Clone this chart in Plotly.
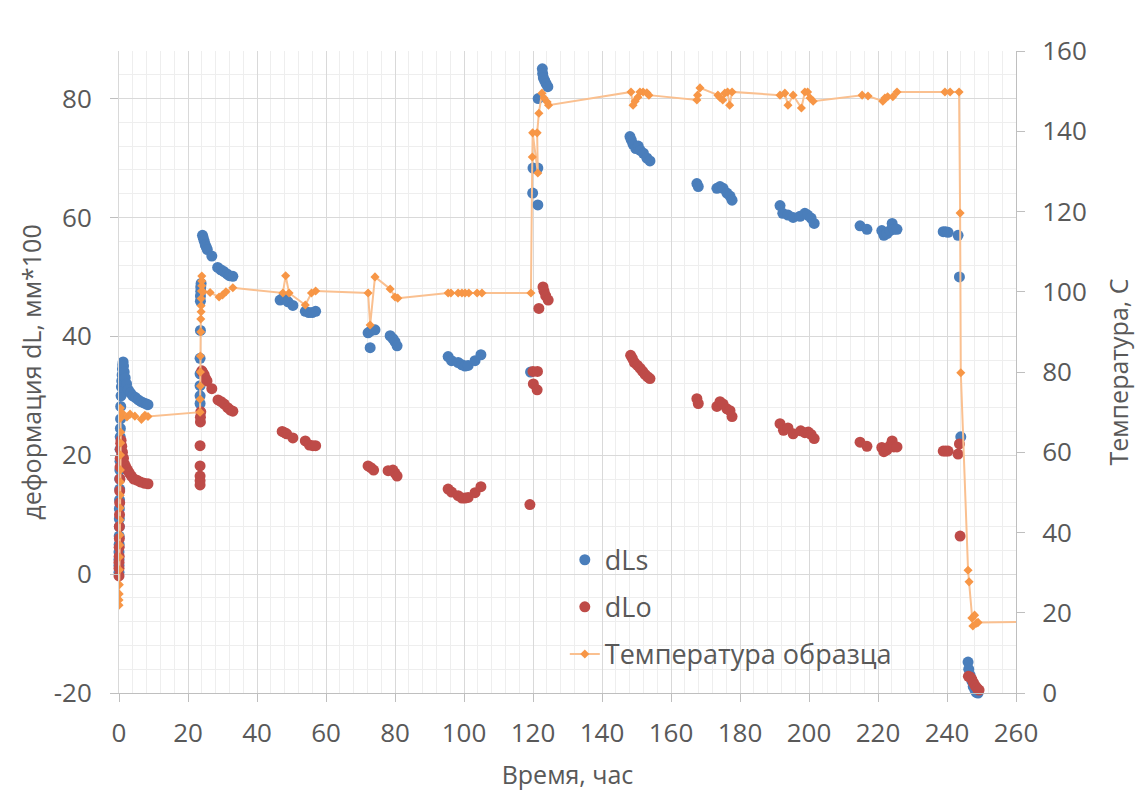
import plotly.graph_objects as go

# ---------------- data ----------------
ls_t = [0.0, 0.0, 0.0, 0.0, 0.05, 0.05, 0.1, 0.1, 0.1, 0.15, 0.2, 0.2, 0.25, 0.3, 0.3, 0.35, 0.4, 0.45, 0.5,
        0.6, 0.7, 0.8, 0.9, 1.0, 1.1, 1.2, 1.3, 1.5, 1.8, 2.2, 2.7, 3.3, 4.0, 4.8, 5.6, 6.4, 7.2, 8.0, 8.4,
        23.5, 23.5, 23.5, 23.5, 23.5, 23.6, 23.6, 23.6, 23.7, 23.7, 23.8, 24.2, 24.4, 24.7, 25.0, 25.3, 25.6,
        26.9, 28.6, 29.5, 30.4, 31.3, 32.0, 33.0,
        46.7, 47.5, 48.3, 49.0, 50.4, 54.0, 55.0, 56.0, 57.0,
        72.2, 73.0, 74.2, 72.8, 78.6, 79.4, 80.0, 80.6,
        95.4, 96.4, 98.3, 99.4, 100.3, 101.2, 103.2, 104.9,
        119.3, 119.9, 120.0, 121.4, 121.4, 121.5, 122.7, 122.8, 123.0, 123.4, 123.8, 124.3,
        148.1, 148.5, 149.0, 149.8, 150.5, 151.1, 152.0, 153.0, 153.9,
        167.5, 167.9, 173.3, 174.2, 175.1, 176.2, 177.1, 177.7,
        191.6, 192.4, 193.9, 195.4, 197.4, 198.8, 199.6, 200.6, 201.5,
        214.8, 216.8, 221.1, 221.7, 222.6, 223.5, 224.1, 224.6, 225.5,
        238.9, 239.6, 240.3, 243.2, 243.6, 244.0,
        246.1, 246.3, 246.7, 247.2, 247.6, 248.1, 248.5, 249.0]
ls_v = [0.3, 1.5, 2.5, 3.7, 5.0, 6.4, 8.0, 9.3, 11.0, 12.5, 14.3, 16.0, 17.5, 19.0, 21.0, 23.1, 24.5, 26.1, 28.2,
        30.0, 31.5, 32.5, 33.5, 34.5, 35.2, 35.7, 35.0, 34.0, 33.0, 32.0, 31.0, 30.5, 30.0, 29.7, 29.3, 29.0, 28.8, 28.6, 28.5,
        28.7, 30.0, 31.7, 33.7, 36.3, 41.0, 45.9, 46.8, 47.6, 48.3, 48.9, 57.0, 56.6, 56.0, 55.4, 55.0, 54.6,
        53.5, 51.6, 51.2, 50.9, 50.5, 50.2, 50.1,
        46.1, 46.4, 46.2, 45.8, 45.2, 44.2, 44.0, 44.0, 44.2,
        40.6, 40.9, 41.1, 38.1, 40.1, 39.6, 39.1, 38.4,
        36.6, 35.9, 35.6, 35.2, 35.0, 35.1, 35.9, 36.9,
        34.0, 64.1, 68.3, 68.3, 62.1, 80.0, 85.0, 84.2, 83.5, 83.0, 82.5, 82.0,
        73.6, 73.0, 72.3, 71.6, 72.0, 71.3, 70.8, 70.0, 69.5,
        65.7, 65.2, 64.9, 65.2, 64.9, 64.1, 63.6, 62.9,
        62.0, 60.7, 60.4, 60.0, 60.2, 60.7, 60.4, 59.9, 59.0,
        58.6, 58.0, 57.8, 57.0, 57.3, 57.8, 59.0, 58.0, 58.0,
        57.6, 57.6, 57.5, 57.0, 50.0, 23.1,
        -14.8, -16.0, -17.0, -18.0, -18.9, -19.5, -19.9, -20.0]

lo_t = [0.0, 0.0, 0.0, 0.05, 0.05, 0.1, 0.1, 0.15, 0.2, 0.2, 0.25, 0.3, 0.35, 0.4, 0.5, 0.6, 0.8, 1.0,
        1.3, 1.6, 2.0, 2.5, 3.0, 3.6, 4.3, 5.2, 6.2, 7.3, 8.4,
        23.5, 23.5, 23.5, 23.5, 23.5, 23.6, 23.6, 23.7, 24.0, 24.3, 24.7, 25.1, 25.5, 26.9, 28.7, 29.6, 30.5,
        31.5, 32.3, 33.0,
        47.3, 48.0, 48.6, 50.4, 54.0, 55.2, 56.2, 57.0,
        72.2, 73.0, 73.8, 78.0, 79.4, 80.0, 80.6,
        95.4, 96.4, 98.3, 99.4, 100.3, 101.2, 103.2, 104.9,
        119.1, 120.0, 121.3, 120.1, 121.2, 121.7, 122.9, 123.2, 123.7, 124.4,
        148.3, 148.8, 149.4, 150.3, 151.1, 151.8, 152.5, 153.2, 153.9,
        167.5, 167.9, 173.3, 174.2, 175.1, 176.2, 177.1, 177.7,
        191.6, 192.6, 193.9, 195.4, 197.6, 198.8, 199.8, 200.6, 201.5,
        214.8, 216.8, 221.1, 221.7, 222.6, 223.5, 224.1, 224.6, 225.5,
        238.9, 239.6, 240.3, 243.2, 243.6, 243.8,
        246.2, 246.7, 247.2, 247.7, 248.2, 248.7, 249.3]
lo_v = [-0.3, 1.0, 2.0, 3.0, 4.5, 6.0, 8.0, 10.0, 12.0, 14.0, 16.0, 18.0, 19.5, 21.0, 22.0, 22.5, 21.5, 20.5,
        19.5, 18.5, 18.0, 17.5, 17.0, 16.5, 16.0, 15.8, 15.5, 15.3, 15.2,
        15.0, 15.7, 16.5, 18.2, 21.6, 25.6, 26.4, 27.3, 34.2, 33.9, 33.5, 32.9, 32.5, 31.2, 29.3, 29.0, 28.6,
        28.0, 27.6, 27.4,
        24.0, 23.8, 23.6, 22.9, 22.4, 21.7, 21.6, 21.6,
        18.2, 17.9, 17.5, 17.4, 17.5, 17.0, 16.5,
        14.3, 13.8, 13.2, 12.8, 12.8, 12.9, 13.7, 14.7,
        11.7, 34.1, 34.1, 32.0, 31.0, 44.7, 48.3, 47.6, 46.8, 46.1,
        36.8, 36.3, 35.6, 35.1, 34.6, 34.1, 33.6, 33.2, 32.9,
        29.5, 28.7, 28.2, 29.0, 28.6, 27.8, 27.5, 26.5,
        25.3, 24.2, 24.6, 23.6, 24.1, 23.8, 23.9, 23.5, 22.8,
        22.2, 21.5, 21.3, 20.6, 20.9, 21.6, 22.4, 21.4, 21.4,
        20.7, 20.7, 20.7, 20.2, 21.9, 6.4,
        -17.2, -17.3, -17.7, -18.3, -18.8, -19.2, -19.5]

temp_t = [0.0, 0.0, 0.05, 0.1, 0.1, 0.15, 0.2, 0.25, 0.3, 0.3, 0.35, 0.4, 0.4, 0.45, 0.5, 0.5, 0.4, 0.4,
          0.9, 2.3, 3.2, 4.6, 6.5, 7.5, 8.4,
          23.5, 23.5, 23.6, 23.6, 23.6, 23.7, 23.7, 23.8, 23.8, 23.8, 23.9, 24.0, 24.0, 24.0,
          24.4, 26.4, 29.0, 30.0, 31.0, 33.0,
          47.5, 48.3, 49.3, 54.0, 55.8, 57.0,
          72.2, 72.8, 74.2, 78.6, 80.0, 80.8,
          95.4, 96.2, 98.3, 99.4, 100.3, 101.4, 103.8, 105.2,
          119.4, 119.8, 119.9, 121.4, 121.2, 121.7, 122.6, 123.2, 124.1, 124.5,
          148.4, 149.0, 149.6, 150.4, 151.0, 151.9, 153.0, 153.6,
          167.5, 167.7, 168.4, 173.6, 174.2, 175.0, 175.6, 176.4, 177.0, 177.7,
          191.6, 193.0, 193.9, 195.4, 197.8, 198.8, 199.6, 200.3, 201.2,
          215.4, 217.1, 221.4, 222.0, 222.8, 224.3, 225.5,
          239.4, 240.9, 243.5, 243.8, 244.0, 246.1, 246.4, 247.2, 247.5, 248.0, 248.6, 249.0, 262.0]
temp_v = [21.9, 23.2, 24.7, 27.0, 30.7, 33.9, 36.9, 39.4, 43.1, 46.1, 49.3, 52.6, 55.6, 59.3, 62.3, 65.0, 68.5, 71.0,
          69.8, 68.8, 69.5, 69.0, 68.2, 69.2, 68.9,
          70.0, 73.2, 76.5, 80.0, 84.0, 90.0, 93.2, 95.0, 96.5, 98.3, 100.2, 101.5, 102.7, 103.9,
          100.0, 99.8, 98.7, 99.2, 100.0, 101.0,
          99.7, 104.0, 99.7, 96.7, 99.7, 100.2,
          99.7, 91.7, 103.7, 100.7, 98.7, 98.4,
          99.7, 99.7, 99.7, 99.7, 99.7, 99.7, 99.7, 99.7,
          99.7, 133.6, 139.6, 129.6, 139.6, 144.5, 149.5, 148.3, 147.3, 146.5,
          149.8, 146.5, 147.5, 148.5, 149.8, 149.8, 149.6, 149.0,
          147.8, 149.0, 150.8, 149.0, 148.4, 147.8, 149.5, 149.8, 146.5, 149.8,
          149.0, 149.5, 146.5, 149.0, 145.8, 149.8, 149.8, 148.3, 147.5,
          149.0, 148.8, 147.5, 148.3, 148.6, 148.6, 149.8,
          149.8, 149.8, 149.8, 119.6, 79.8, 30.6, 27.7, 18.7, 16.7, 19.4, 17.4, 17.6, 17.7]

x_ticks = list(range(0, 261, 20))
yl_ticks = list(range(-20, 81, 20))
yl_text = [str(v) for v in yl_ticks]          # hyphen-minus as in the original
yr_ticks = list(range(0, 161, 20))

# ---------------- figure ----------------
FONT = "Open Sans"
GREY = "#595959"
TICK = 26
TITLE = 25
fig = go.Figure()
fig.add_trace(go.Scatter(x=ls_t, y=ls_v, mode="markers", name="dLs", legendgroup="a",
                         marker=dict(size=11, color="#4a7ebb"), cliponaxis=False))
fig.add_trace(go.Scatter(x=lo_t, y=lo_v, mode="markers", name="dLo", legendgroup="b",
                         marker=dict(size=11, color="#be4b48"), cliponaxis=False))
fig.add_trace(go.Scatter(x=temp_t, y=temp_v, mode="lines+markers", name="Температура образца",
                         legendgroup="c", yaxis="y2",
                         line=dict(color="#fac090", width=2),
                         marker=dict(symbol="diamond", size=7, color="#f79646")))

fig.update_layout(
    width=1135, height=803,
    margin=dict(l=119, r=119, t=51, b=110, autoexpand=False),
    paper_bgcolor="white", plot_bgcolor="white",
    font=dict(family=FONT, size=TICK, color=GREY),
    showlegend=True,
    legend=dict(x=0.497, y=0.245, xanchor="left", yanchor="top",
                font=dict(family=FONT, size=27, color=GREY),
                bgcolor="rgba(0,0,0,0)", tracegroupgap=9, traceorder="grouped"),
    xaxis=dict(range=[0, 260], tickvals=x_ticks, showgrid=True, gridcolor="#d9d9d9", gridwidth=1,
               minor=dict(dtick=4, tick0=0, showgrid=True, gridcolor="#eeeeee"),
               ticks="outside", ticklen=8, tickcolor="#bfbfbf", ticklabelstandoff=9,
               showline=True, linecolor="#bfbfbf", zeroline=False, automargin=False,
               tickfont=dict(size=TICK, color=GREY),
               title=dict(text="Время, час", font=dict(size=TITLE, color=GREY), standoff=17)),
    yaxis=dict(range=[-20, 88], tickvals=yl_ticks, ticktext=yl_text, showgrid=True,
               gridcolor="#d9d9d9", gridwidth=1,
               minor=dict(dtick=4, tick0=-20, showgrid=True, gridcolor="#eeeeee"),
               ticks="outside", ticklen=8, tickcolor="#bfbfbf", ticklabelstandoff=13,
               showline=True, linecolor="#d9d9d9", zeroline=False, automargin=False,
               tickfont=dict(size=TICK, color=GREY),
               title=dict(text="деформация dL, мм*100", font=dict(size=TITLE, color=GREY), standoff=4)),
    yaxis2=dict(range=[0, 160], tickvals=yr_ticks, overlaying="y", side="right", showgrid=False,
                ticks="outside", ticklen=8, tickcolor="#bfbfbf", ticklabelstandoff=12,
                showline=True, linecolor="#bfbfbf", zeroline=False, automargin=False,
                tickfont=dict(size=TICK, color=GREY),
                title=dict(text="Температура, С", font=dict(size=TITLE, color=GREY), standoff=26)),
)

fig.write_html("out.html")
